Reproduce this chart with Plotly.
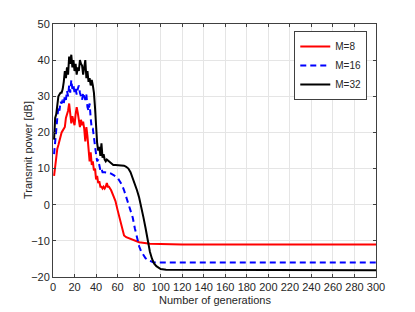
import plotly.graph_objects as go

# ---- data ----
x_m8 = [1, 2, 3, 4, 5, 6, 7, 8, 9, 10, 11, 12, 13, 14, 15, 16, 17, 18, 19, 20,
        21, 22, 23, 24, 25, 26, 27, 28, 29, 30, 31, 32, 33, 34, 35, 36, 37, 38, 39, 40,
        41, 42, 43, 44, 45, 46, 47, 48, 49, 50, 51, 52, 53, 54, 56, 58, 60, 62, 64, 66,
        68, 70, 72, 74, 76, 78, 80, 85, 90, 100, 120, 300]
y_m8 = [8, 11, 14, 15.5, 16.5, 18, 19.5, 20, 20.5, 21, 21.5, 24, 25, 26, 28, 25, 22.5, 24.5, 23, 22,
        25, 27, 25.5, 23, 21.5, 23.5, 22, 23, 21, 17.5, 21.5, 19, 16, 12, 14.5, 11, 12, 9.5, 10, 7,
        8, 6, 6.5, 5, 5, 4.5, 5, 4.5, 5, 6, 5, 5, 4.5, 4, 2.5, 1, -1.5, -4, -6.5, -8.5,
        -9, -9.2, -9.5, -9.8, -10, -10.2, -10.4, -10.6, -10.8, -10.9, -11, -11]

x_m16 = [1, 2, 3, 4, 5, 6, 7, 8, 9, 10, 11, 12, 13, 14, 15, 16, 17, 18, 19, 20,
         21, 22, 23, 24, 25, 26, 27, 28, 29, 30, 31, 32, 33, 34, 35, 36, 37, 38, 39, 40,
         41, 42, 43, 44, 45, 46, 48, 50, 52, 54, 56, 58, 60, 62, 64, 66, 68, 70, 72, 74,
         76, 78, 80, 82, 84, 86, 88, 90, 93, 97, 300]
y_m16 = [14, 18, 21, 24, 27, 26, 28.5, 28, 29, 28, 30, 29, 31.5, 30, 33, 31, 34.5, 32, 33, 31,
         32, 30.5, 32, 33, 31, 30, 29, 31, 30, 29, 30.5, 27, 26, 28, 24, 21, 21, 18, 17, 14,
         12, 12.5, 11, 9.5, 10, 9, 9, 9, 8.8, 8.6, 8.3, 8, 7.5, 6.5, 5.5, 4, 2, 0.5, -1.5, -3.5,
         -6.5, -9.5, -11.5, -13, -14, -14.8, -15.3, -15.6, -15.9, -16, -16]

x_m32 = [1, 2, 3, 4, 5, 6, 7, 8, 9, 10, 11, 12, 13, 14, 15, 16, 17, 18, 19, 20,
         21, 22, 23, 24, 25, 26, 27, 28, 29, 30, 31, 32, 33, 34, 35, 36, 37, 38, 39, 40,
         41, 42, 43, 44, 45, 46, 47, 48, 49, 50, 52, 54, 56, 58, 60, 62, 64, 66, 68, 70,
         72, 74, 76, 78, 80, 82, 84, 86, 88, 90, 92, 94, 96, 98, 100, 105, 300]
y_m32 = [18, 24, 25, 28, 30, 30.5, 31, 31, 32, 34, 37, 35, 38, 36, 41, 39, 41.5, 38, 40, 37,
         39, 36, 38, 37, 40, 39, 38.5, 36, 39, 40, 35, 37, 34, 35, 33, 34.5, 33, 31, 27, 21,
         17, 15, 16, 13.5, 17, 13, 14, 12.5, 12, 12.5, 12, 11.5, 11, 11, 11, 10.8, 11, 10.8, 10.5, 10,
         9, 7.5, 6, 4, 2, -0.5, -3.5, -6.5, -10, -13, -15, -16.3, -17, -17.5, -17.8, -18, -18.1]

x_ticks = list(range(0, 301, 20))
y_ticks = list(range(-20, 51, 10))

x_title = "Number of generations"
y_title = "Transmit power [dB]"

font_color = "#262626"
font_family = "Liberation Sans, Arial"

fig = go.Figure()
fig.add_trace(go.Scatter(x=x_m8, y=y_m8, mode="lines", name="M=8",
                         line=dict(color="#ff0000", width=2)))
fig.add_trace(go.Scatter(x=x_m16, y=y_m16, mode="lines", name="M=16",
                         line=dict(color="#0000ff", width=2, dash="6px,4px")))
fig.add_trace(go.Scatter(x=x_m32, y=y_m32, mode="lines", name="M=32",
                         line=dict(color="#000000", width=2)))

axis_common = dict(
    showgrid=True, gridcolor="#e5e5e5", gridwidth=1,
    showline=True, linecolor="#404040", linewidth=1, mirror="ticks",
    ticks="inside", ticklen=3, tickcolor="#404040",
    zeroline=False, automargin=False,
    tickfont=dict(family=font_family, size=11, color=font_color),
)

# the page body adds an 8px offset, so the figure is 8px smaller than the window
plot_w = 407 - 45 - 39
plot_h = 304 - 16 - 35

fig.update_layout(
    width=407, height=304,
    margin=dict(l=45, r=39, t=16, b=35, autoexpand=False),
    paper_bgcolor="white", plot_bgcolor="white",
    font=dict(family=font_family, size=11, color=font_color),
    xaxis=dict(range=[0, 300], tickvals=x_ticks, **axis_common),
    yaxis=dict(range=[-20, 50], tickvals=y_ticks, **axis_common),
    legend=dict(x=0.973, y=0.972, xanchor="right", yanchor="top",
                bgcolor="white", bordercolor="#404040", borderwidth=1,
                font=dict(size=10, color=font_color, family=font_family),
                itemwidth=30, tracegroupgap=0),
    showlegend=True,
    annotations=[
        dict(text=x_title, xref="paper", yref="paper", x=0.5, y=-23 / plot_h,
             xanchor="center", yanchor="middle", showarrow=False,
             font=dict(size=11, color=font_color, family=font_family)),
        dict(text=y_title, xref="paper", yref="paper", x=-25.5 / plot_w, y=0.5,
             xanchor="center", yanchor="middle", showarrow=False, textangle=-90,
             font=dict(size=11, color=font_color, family=font_family)),
    ],
)

fig.write_html("out.html")
